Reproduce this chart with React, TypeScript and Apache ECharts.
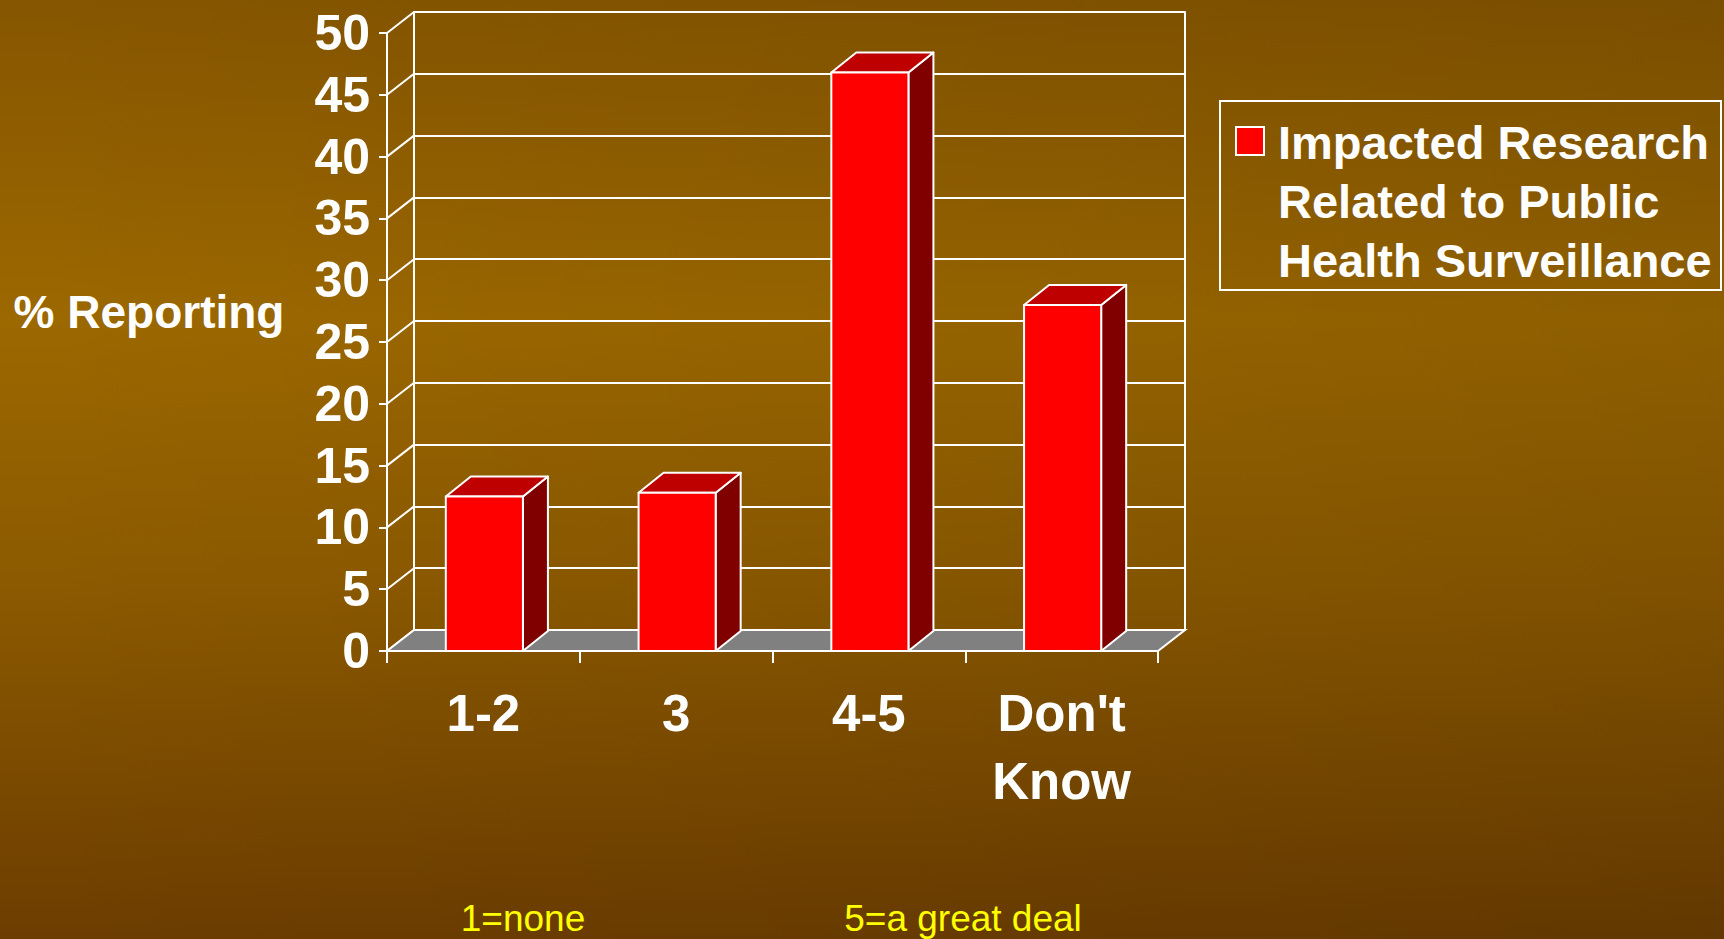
import React, { useEffect, useRef } from "react";
import * as echarts from "echarts";

const categories = ["1-2", "3", "4-5", "Don't\nKnow"];
const values = [12.5, 12.8, 46.8, 28.0];
const yTicks = [0, 5, 10, 15, 20, 25, 30, 35, 40, 45, 50];
const seriesName = "Impacted Research Related to Public Health Surveillance";
const legendLines = ["Impacted Research", "Related to Public", "Health Surveillance"];
const yAxisTitle = "% Reporting";
const scaleNotes = ["1=none", "5=a great deal"];

const FONT = "'Liberation Sans', Arial, Helvetica, sans-serif";
const WALL_DX = 27;
const WALL_DY = -21;
const BAR_DX = 25;
const BAR_DY = -20;
const WHITE = "#ffffff";
const LW = 2;

export default function App() {
  const ref = useRef<HTMLDivElement>(null);

  useEffect(() => {
    if (!ref.current) return;
    const chart = echarts.init(ref.current, null, { renderer: "svg" });
    const yMin = yTicks[0];
    const yMax = yTicks[yTicks.length - 1];
    const yInt = yTicks[1] - yTicks[0];

    const gridLeft = 387;
    const gridTop = 33;
    const gridW = 771;
    const gridH = 618;

    const option: any = {
      animation: false,
      backgroundColor: "transparent",
      grid: [
        { left: gridLeft, top: gridTop, width: gridW, height: gridH },
        { left: gridLeft + WALL_DX, top: gridTop + WALL_DY, width: gridW, height: gridH },
      ],
      xAxis: [
        {
          type: "category",
          gridIndex: 0,
          data: categories,
          boundaryGap: true,
          axisLine: { show: true, lineStyle: { color: WHITE, width: LW } },
          axisTick: { show: true, length: 12, lineStyle: { color: WHITE, width: LW } },
          axisLabel: {
            interval: 0,
            color: WHITE,
            fontFamily: FONT,
            fontWeight: "bold",
            fontSize: 51,
            lineHeight: 68,
            margin: 28,
          },
          splitLine: { show: false },
        },
        {
          type: "category",
          gridIndex: 1,
          data: categories,
          axisLine: { show: true, lineStyle: { color: WHITE, width: LW } },
          axisTick: { show: false },
          axisLabel: { show: false },
          splitLine: { show: false },
        },
      ],
      yAxis: [
        {
          type: "value",
          gridIndex: 0,
          min: yMin,
          max: yMax,
          interval: yInt,
          axisLine: { show: true, lineStyle: { color: WHITE, width: LW } },
          axisTick: { show: true, length: 8, lineStyle: { color: WHITE, width: LW } },
          axisLabel: {
            color: WHITE,
            fontFamily: FONT,
            fontWeight: "bold",
            fontSize: 50,
            margin: 17,
          },
          splitLine: { show: false },
        },
        {
          type: "value",
          gridIndex: 1,
          min: yMin,
          max: yMax,
          interval: yInt,
          axisLine: { show: true, lineStyle: { color: WHITE, width: LW } },
          axisTick: { show: false },
          axisLabel: { show: false },
          splitLine: { show: true, lineStyle: { color: WHITE, width: LW } },
        },
        {
          type: "value",
          gridIndex: 1,
          position: "right",
          min: yMin,
          max: yMax,
          interval: yInt,
          axisLine: { show: true, lineStyle: { color: WHITE, width: LW } },
          axisTick: { show: false },
          axisLabel: { show: false },
          splitLine: { show: false },
        },
      ],
      series: [
        {
          type: "custom",
          name: "floor",
          xAxisIndex: 0,
          yAxisIndex: 0,
          silent: true,
          z: 1,
          clip: false,
          data: [[0, 0]],
          renderItem: (params: any, api: any) => {
            const cs = params.coordSys;
            const x0 = cs.x;
            const x1 = cs.x + cs.width;
            const yb = cs.y + cs.height;
            const children: any[] = [];
            yTicks.forEach((t) => {
              const p = api.coord([0, t]);
              children.push({
                type: "line",
                shape: { x1: x0, y1: p[1], x2: x0 + WALL_DX, y2: p[1] + WALL_DY },
                style: { stroke: WHITE, lineWidth: LW },
              });
            });
            children.push({
              type: "polygon",
              shape: {
                points: [
                  [x0, yb],
                  [x1, yb],
                  [x1 + WALL_DX, yb + WALL_DY],
                  [x0 + WALL_DX, yb + WALL_DY],
                ],
              },
              style: { fill: "#808080", stroke: WHITE, lineWidth: LW },
            });
            return { type: "group", children };
          },
        },
        {
          type: "custom",
          name: seriesName,
          xAxisIndex: 0,
          yAxisIndex: 0,
          z: 3,
          clip: false,
          encode: { x: 0, y: 1 },
          data: values.map((v, i) => [i, v]),
          renderItem: (params: any, api: any) => {
            const idx = api.value(0);
            const v = api.value(1);
            const base = api.coord([idx, 0]);
            const top = api.coord([idx, v]);
            const band = api.size([1, 0])[0];
            const w = band * 0.4;
            const xl = base[0] - w / 2 + 1;
            const xr = xl + w;
            const yt = top[1];
            const yb = base[1];
            const st = { stroke: WHITE, lineWidth: LW, lineJoin: "round" };
            return {
              type: "group",
              children: [
                {
                  type: "polygon",
                  shape: {
                    points: [
                      [xr, yt],
                      [xr + BAR_DX, yt + BAR_DY],
                      [xr + BAR_DX, yb + BAR_DY],
                      [xr, yb],
                    ],
                  },
                  style: { ...st, fill: "#800000" },
                },
                {
                  type: "polygon",
                  shape: {
                    points: [
                      [xl, yt],
                      [xl + BAR_DX, yt + BAR_DY],
                      [xr + BAR_DX, yt + BAR_DY],
                      [xr, yt],
                    ],
                  },
                  style: { ...st, fill: "#BF0000" },
                },
                {
                  type: "rect",
                  shape: { x: xl, y: yt, width: w, height: yb - yt },
                  style: { ...st, fill: "#FF0000" },
                },
              ],
            };
          },
        },
      ],
      graphic: [
        {
          type: "text",
          x: 149,
          y: 312,
          style: {
            text: yAxisTitle,
            fill: WHITE,
            font: `bold 46px ${FONT}`,
            align: "center",
            verticalAlign: "middle",
          },
        },
        {
          type: "rect",
          shape: { x: 1220, y: 101, width: 501, height: 189 },
          style: { fill: "none", stroke: WHITE, lineWidth: LW },
        },
        {
          type: "rect",
          shape: { x: 1236, y: 127, width: 28, height: 28 },
          style: { fill: "#FF0000", stroke: WHITE, lineWidth: LW },
        },
        {
          type: "text",
          x: 1278,
          y: 113,
          style: {
            text: legendLines.join("\n"),
            fill: WHITE,
            font: `bold 47px ${FONT}`,
            lineHeight: 59,
            verticalAlign: "top",
            align: "left",
          },
        },
        {
          type: "text",
          x: 523,
          y: 918,
          style: {
            text: scaleNotes[0],
            fill: "#FFFF00",
            font: `37px ${FONT}`,
            align: "center",
            verticalAlign: "middle",
          },
        },
        {
          type: "text",
          x: 963,
          y: 918,
          style: {
            text: scaleNotes[1],
            fill: "#FFFF00",
            font: `37px ${FONT}`,
            align: "center",
            verticalAlign: "middle",
          },
        },
      ],
    };
    chart.setOption(option);
    return () => chart.dispose();
  }, []);

  return (
    <div
      ref={ref}
      style={{
        position: "fixed",
        left: 0,
        top: 0,
        width: 1724,
        height: 939,
        background:
          "linear-gradient(to right, rgba(0,0,0,0) 0%, rgba(0,0,0,0.09) 100%), linear-gradient(to bottom, #865600 0%, #9C6800 34%, #8C5A00 62%, #6C3D00 100%)",
      }}
    />
  );
}
